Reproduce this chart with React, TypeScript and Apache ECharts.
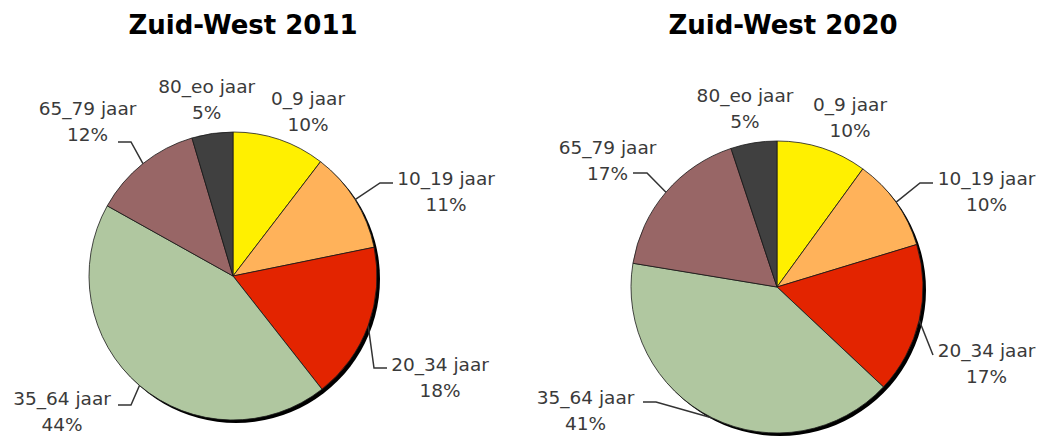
import React, { useEffect, useRef } from "react";
import * as echarts from "echarts";

const categories = ["0_9 jaar", "10_19 jaar", "20_34 jaar", "35_64 jaar", "65_79 jaar", "80_eo jaar"];
const values2011 = [10.4, 11.4, 17.6, 43.7, 12.3, 4.6];
const values2020 = [10.0, 10.3, 16.7, 40.6, 17.3, 5.1];
const titles = ["Zuid-West 2011", "Zuid-West 2020"];

const colors = ["#FFF000", "#FFB25A", "#E32400", "#B0C7A0", "#986666", "#404040"];

// layout (styling) of each pie and its labels, relative to the pie centre
const pies = [
  {
    center: [233, 276],
    r: 144,
    titleX: 243,
    labelPlace: [[75, -165], [213, -85], [207, 101.5], [-171, 135.5], [-145.5, -154.5], [-26.3, -177]],
    lineEnd: [null, [160, -93], [154, 92], [-115, 129], [-115, -134], null],
    elbow: [0, 13, 13, 13, 13, 0],
  },
  {
    center: [777, 287],
    r: 146,
    titleX: 783,
    labelPlace: [[73, -170], [209.5, -96], [209.5, 76], [-191.5, 123], [-169.5, -127], [-32, -179]],
    lineEnd: [null, [156, -104], [156, 68], [-134, 115], [-144, -114], null],
    elbow: [0, 13, 0, 13, 14, 0],
  },
];

function midAngles(values: number[]) {
  const total = values.reduce((a, b) => a + b, 0);
  let acc = 0;
  return values.map((v) => {
    const m = ((acc + v / 2) / total) * Math.PI * 2;
    acc += v;
    return m;
  });
}

export default function App() {
  const ref = useRef<HTMLDivElement>(null);
  useEffect(() => {
    if (!ref.current) return;
    const chart = echarts.init(ref.current, undefined, { renderer: "svg" });
    const allValues = [values2011, values2020];
    const series: any[] = [];
    pies.forEach((p, pi) => {
      const vals = allValues[pi];
      const mids = midAngles(vals);
      const [cx, cy] = p.center;
      series.push({
        type: "pie",
        silent: true,
        center: [cx + 3, cy + 3],
        radius: p.r,
        label: { show: false },
        labelLine: { show: false },
        emphasis: { disabled: true },
        itemStyle: { color: "#000" },
        data: [{ value: 1, name: "" }],
        z: 1,
      });
      series.push({
        type: "pie",
        center: [cx, cy],
        radius: p.r,
        startAngle: 90,
        clockwise: true,
        avoidLabelOverlap: false,
        percentPrecision: 0,
        emphasis: { disabled: true },
        z: 2,
        itemStyle: { borderColor: "#1a1a1a", borderWidth: 0.8 },
        label: {
          show: true,
          position: "outside",
          formatter: "{b}\n{d}%",
          fontFamily: "DejaVu Sans",
          fontSize: 18.5,
          lineHeight: 26,
          color: "#3a3a3a",
          align: "center",
        },
        labelLine: {
          show: true,
          length: 10,
          length2: 10,
          lineStyle: { color: "#333", width: 1.5 },
        },
        labelLayout: (params: any) => {
          const i = params.dataIndex;
          const lp = p.labelPlace[i];
          const res: any = {
            x: cx + lp[0],
            y: cy + lp[1],
            align: "center",
            verticalAlign: "middle",
          };
          const le = p.lineEnd[i];
          if (le) {
            const a = mids[i];
            const ex = cx + p.r * Math.sin(a);
            const ey = cy - p.r * Math.cos(a);
            const endX = cx + le[0];
            const endY = cy + le[1];
            const dir = le[0] > 0 ? -1 : 1;
            const elbowX = endX + dir * p.elbow[i];
            res.labelLinePoints = [
              [ex, ey],
              [elbowX, endY],
              [endX, endY],
            ];
          }
          return res;
        },
        data: categories.map((c, i) => ({
          name: c,
          value: vals[i],
          itemStyle: { color: colors[i] },
          labelLine: { show: p.lineEnd[i] != null },
        })),
      });
    });
    chart.setOption({
      animation: false,
      title: titles.map((t, i) => ({
        text: t,
        left: pies[i].titleX,
        top: 12,
        padding: 0,
        textAlign: "center",
        textStyle: {
          fontFamily: "DejaVu Sans",
          fontWeight: "bold",
          fontSize: 26,
          color: "#000",
        },
      })),
      series,
    });
    return () => chart.dispose();
  }, []);
  return (
    <div
      ref={ref}
      style={{ position: "absolute", left: 0, top: 0, width: 1048, height: 439, background: "#fff" }}
    />
  );
}
